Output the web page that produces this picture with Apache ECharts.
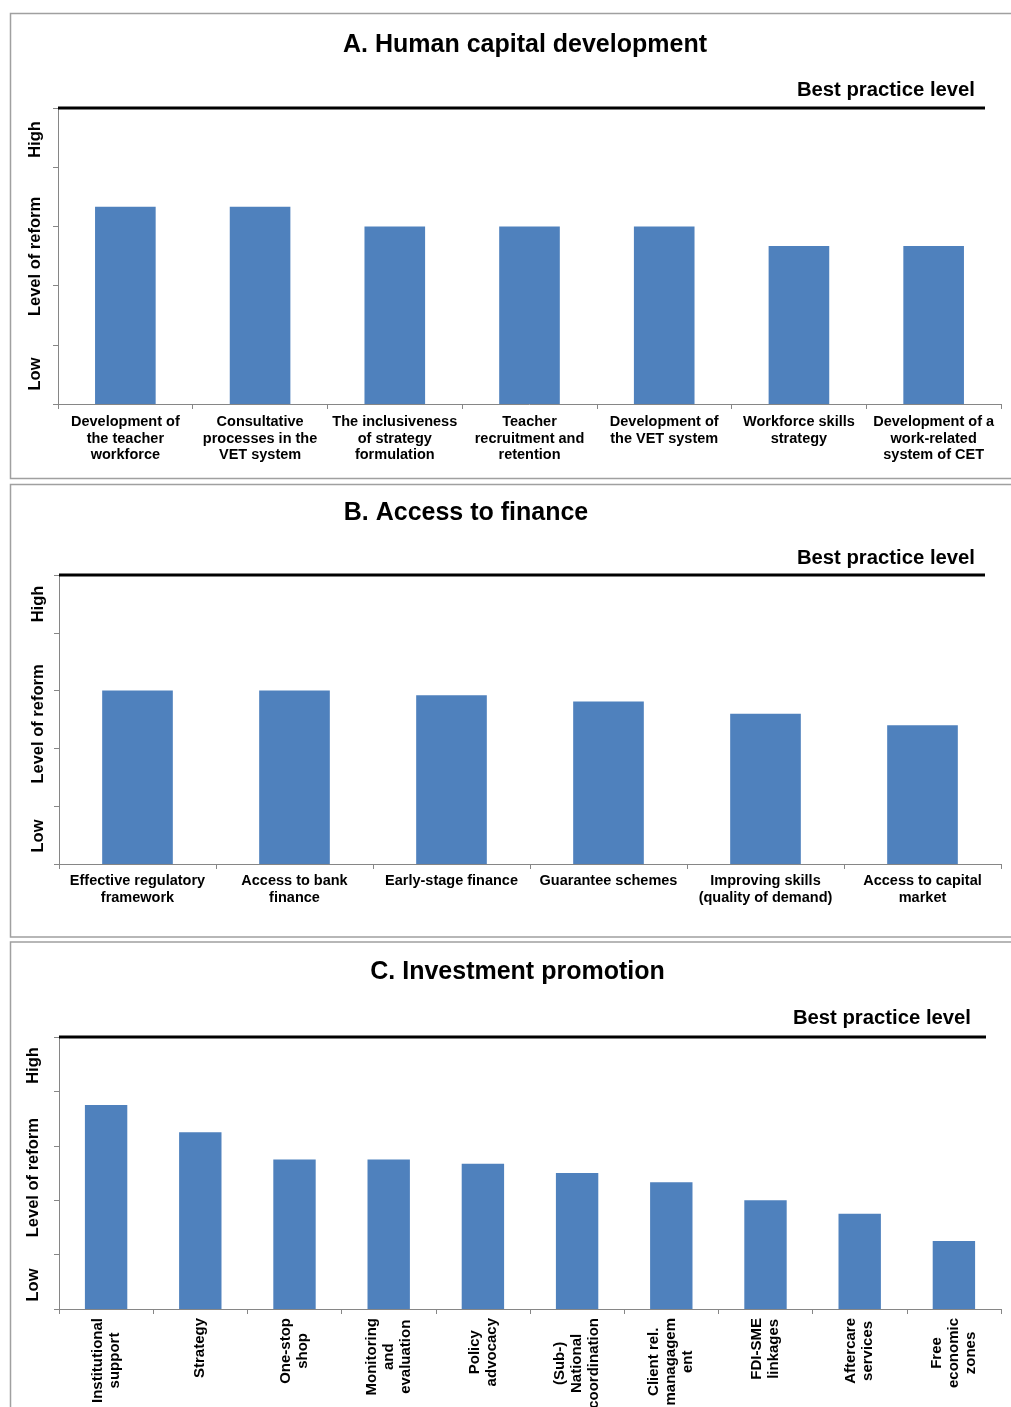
<!DOCTYPE html>
<html><head><meta charset="utf-8">
<script src="https://cdn.jsdelivr.net/npm/echarts@6/dist/echarts.min.js"></script>
<style>html,body{margin:0;padding:0;background:#fff;}#c{width:1011px;height:1407px;}</style>
</head><body><div id="c"></div>
<script>
// ---- data ----
const categoriesA = [
  'Development of\nthe teacher\nworkforce',
  'Consultative\nprocesses in the\nVET system',
  'The inclusiveness\nof strategy\nformulation',
  'Teacher\nrecruitment and\nretention',
  'Development of\nthe VET system',
  'Workforce skills\nstrategy',
  'Development of a\nwork-related\nsystem of CET'
];
const valuesA = [3.33, 3.33, 3, 3, 3, 2.67, 2.67];

const categoriesB = [
  'Effective regulatory\nframework',
  'Access to bank\nfinance',
  'Early-stage finance',
  'Guarantee schemes',
  'Improving skills\n(quality of demand)',
  'Access to capital\nmarket'
];
const valuesB = [3, 3, 2.92, 2.81, 2.6, 2.4];

const categoriesC = [
  'Institutional\nsupport',
  'Strategy',
  'One-stop\nshop',
  'Monitoring\nand\nevaluation',
  'Policy\nadvocacy',
  '(Sub-)\nNational\ncoordination',
  'Client rel.\nmanagagem\nent',
  'FDI-SME\nlinkages',
  'Aftercare\nservices',
  'Free\neconomic\nzones'
];
const valuesC = [3.75, 3.25, 2.75, 2.75, 2.67, 2.5, 2.33, 2, 1.75, 1.25];

const yMin = 0;
const yMax = 5;           // best practice level
const yInterval = 1;
const panelTitles = ['A. Human capital development', 'B. Access to finance', 'C. Investment promotion'];
const bestPracticeLabel = 'Best practice level';
const yAxisWords = ['Low', 'Level of reform', 'High'];

// ---- layout ----
const FF = '"Liberation Sans", Arial, Helvetica, sans-serif';
const BAR = '#4F81BD';
const AXIS = '#868686';
const grids = [
  {left: 58, top: 108, width: 943, height: 296},
  {left: 59, top: 575, width: 942, height: 289},
  {left: 59, top: 1037, width: 942, height: 272}
];
const panels = [
  {cats: categoriesA, vals: valuesA, rotate: false, margin: 10,
   box: [10.5, 13.5, 1020, 465], title: [525, 45], best: [975, 90.5], lineEnd: 985,
   yx: 35, yw: [374, 256.5, 139.5]},
  {cats: categoriesB, vals: valuesB, rotate: false, margin: 9,
   box: [10.5, 484.5, 1020, 452.5], title: [466, 513.5], best: [975, 558], lineEnd: 985,
   yx: 38, yw: [836, 724, 604]},
  {cats: categoriesC, vals: valuesC, rotate: true, margin: 9,
   box: [10.5, 942, 1020, 500], title: [517.5, 972.5], best: [971, 1018.5], lineEnd: 986,
   yx: 33.5, yw: [1285, 1177.7, 1065.5]}
];

const xAxes = [], yAxes = [], series = [], graphics = [];
panels.forEach((p, i) => {
  const g = grids[i];
  const label = p.rotate ? {
    interval: 0, rotate: 90, margin: p.margin,
    formatter: v => v.split('\n').map(s => '{c|' + s + '}').join('\n'),
    rich: {c: {align: 'center', fontSize: 15, fontWeight: 'bold', fontFamily: FF, color: '#000', lineHeight: 17}}
  } : {
    interval: 0, margin: p.margin, fontSize: 14.5, fontWeight: 'bold', fontFamily: FF,
    color: '#000', lineHeight: 16.5
  };
  xAxes.push({
    type: 'category', gridIndex: i, data: p.cats, boundaryGap: true,
    axisLine: {show: true, lineStyle: {color: AXIS, width: 1}},
    axisTick: {show: true, length: 5, lineStyle: {color: AXIS}},
    axisLabel: label, splitLine: {show: false}
  });
  yAxes.push({
    type: 'value', gridIndex: i, min: yMin, max: yMax, interval: yInterval,
    axisLine: {show: true, lineStyle: {color: AXIS, width: 1}},
    axisTick: {show: true, length: 5, lineStyle: {color: AXIS}},
    axisLabel: {show: false}, splitLine: {show: false}
  });
  series.push({
    type: 'bar', xAxisIndex: i, yAxisIndex: i, data: p.vals, barWidth: '45%',
    itemStyle: {color: BAR}, silent: true, animation: false
  });
  // panel border
  graphics.push({type: 'rect', z: -10, silent: true,
    shape: {x: p.box[0], y: p.box[1], width: p.box[2], height: p.box[3]},
    style: {fill: 'transparent', stroke: '#A0A0A0', lineWidth: 1.5}});
  // title
  graphics.push({type: 'text', x: p.title[0], y: p.title[1], silent: true,
    style: {text: panelTitles[i], fill: '#000', fontSize: 25, fontWeight: 'bold', fontFamily: FF,
      align: 'center', verticalAlign: 'middle'}});
  // best practice line at the axis maximum
  graphics.push({type: 'line', z: 100, silent: true,
    shape: {x1: g.left, y1: g.top, x2: p.lineEnd, y2: g.top},
    style: {stroke: '#000', lineWidth: 3}});
  graphics.push({type: 'text', x: p.best[0], y: p.best[1], silent: true,
    style: {text: bestPracticeLabel, fill: '#000', fontSize: 20.3, fontWeight: 'bold', fontFamily: FF,
      align: 'right', verticalAlign: 'middle'}});
  // y-axis words
  yAxisWords.forEach((w, k) => {
    graphics.push({type: 'text', x: p.yx, y: p.yw[k], rotation: Math.PI / 2, silent: true,
      style: {text: w, fill: '#000', fontSize: 16.5, fontWeight: 'bold', fontFamily: FF,
        align: 'center', verticalAlign: 'middle'}});
  });
});

const chart = echarts.init(document.getElementById('c'), null, {renderer: 'canvas'});
chart.setOption({
  animation: false,
  backgroundColor: '#fff',
  grid: grids.map(g => Object.assign({containLabel: false, outerBoundsMode: 'none'}, g)),
  xAxis: xAxes,
  yAxis: yAxes,
  series: series,
  graphic: graphics
});
</script></body></html>
